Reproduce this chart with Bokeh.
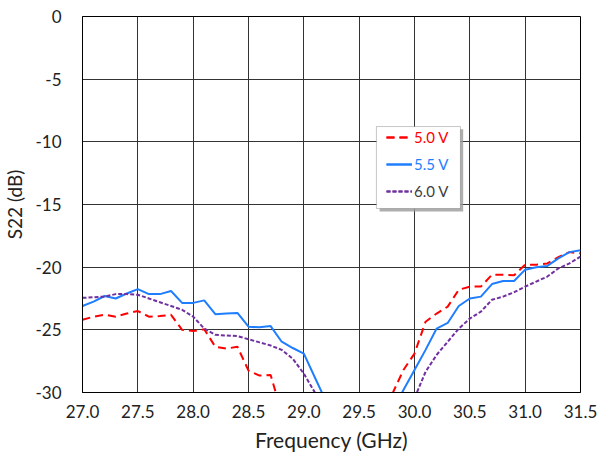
from bokeh.plotting import figure
from bokeh.models import (Legend, LegendItem, BoxAnnotation, Range1d, FixedTicker,
                          NumeralTickFormatter, PrintfTickFormatter)
from bokeh.embed import file_html
from bokeh.resources import INLINE

freq_lo = [27.0, 27.1, 27.2, 27.3, 27.4, 27.5, 27.6, 27.7, 27.8, 27.9, 28.0,
           28.1, 28.2, 28.3, 28.4, 28.5, 28.6, 28.7, 28.8, 28.9, 29.0, 29.1, 29.2]
freq_hi = [29.8, 29.9, 30.0, 30.1, 30.2, 30.3, 30.4, 30.5, 30.6, 30.7, 30.8,
           30.9, 31.0, 31.1, 31.2, 31.3, 31.4, 31.5]

s22_50_lo = [-24.2, -23.95, -23.8, -23.95, -23.7, -23.5, -23.95, -23.9, -23.8, -25.0, -25.1,
             -24.95, -26.35, -26.5, -26.35, -28.25, -28.65, -28.6, -31.6, -33.0, -34.0, -35.0, -36.0]
s22_50_hi = [-30.1, -28.2, -26.9, -24.35, -23.7, -23.15, -21.8, -21.55, -21.55, -20.6, -20.6,
             -20.65, -19.8, -19.8, -19.7, -19.2, -18.8, -18.9]

s22_55_lo = [-23.1, -22.75, -22.3, -22.5, -22.1, -21.75, -22.15, -22.15, -21.9, -22.85, -22.85,
             -22.65, -23.75, -23.7, -23.65, -24.75, -24.8, -24.7, -25.95, -26.45, -26.9, -28.8, -30.7]
s22_55_hi = [-31.5, -29.8, -28.2, -26.6, -24.9, -24.45, -23.1, -22.5, -22.35, -21.35, -21.1,
             -21.1, -20.2, -20.0, -19.9, -19.3, -18.8, -18.65]

s22_60_lo = [-22.45, -22.4, -22.35, -22.15, -22.15, -22.2, -22.5, -22.8, -23.1, -23.4, -23.95,
             -24.9, -25.4, -25.45, -25.5, -25.75, -26.0, -26.25, -26.6, -27.3, -28.5, -30.0, -31.5]
s22_60_hi = [-32.0, -31.2, -30.45, -28.35, -27.0, -25.95, -24.9, -24.1, -23.55, -22.6, -22.35,
             -22.0, -21.55, -21.15, -20.75, -20.1, -19.7, -19.15]

x_ticks = [27.0, 27.5, 28.0, 28.5, 29.0, 29.5, 30.0, 30.5, 31.0, 31.5]
y_ticks = [0, -5, -10, -15, -20, -25, -30]

RED = "#FF0000"
BLUE = "#1F7EFF"
PURPLE = "#7030A0"
FONT = "Lato"

p = figure(frame_width=498, frame_height=376, output_backend="svg", toolbar_location=None,
           x_range=Range1d(27.0, 31.5), y_range=Range1d(-30, 0),
           min_border_left=78, min_border_right=18, min_border_top=16, min_border_bottom=0)

p.outline_line_color = "black"
p.outline_line_width = 1

for ax in (p.xaxis[0], p.yaxis[0]):
    ax.major_tick_line_color = None
    ax.minor_tick_line_color = None
    ax.axis_line_color = "black"
    ax.major_label_text_font = FONT
    ax.major_label_text_font_size = "17px"
    ax.major_label_text_color = "#222222"
    ax.axis_label_text_font = FONT
    ax.axis_label_text_font_style = "normal"
    ax.axis_label_text_color = "#222222"

p.xaxis.ticker = FixedTicker(ticks=x_ticks)
p.xaxis.formatter = NumeralTickFormatter(format="0.0")
p.xaxis.axis_label = "Frequency (GHz)"
p.xaxis.axis_label_text_font_size = "21px"
p.xaxis.major_label_standoff = 6
p.xaxis.axis_label_standoff = 6

p.yaxis.ticker = FixedTicker(ticks=y_ticks)
p.yaxis.formatter = PrintfTickFormatter(format="%d")
p.yaxis.axis_label = "S22 (dB)"
p.yaxis.axis_label_text_font_size = "19px"
p.yaxis.major_label_standoff = 15
p.yaxis.axis_label_standoff = 6

p.xgrid.ticker = FixedTicker(ticks=x_ticks)
p.ygrid.ticker = FixedTicker(ticks=y_ticks)
for g in (p.xgrid[0], p.ygrid[0]):
    g.grid_line_color = "#333333"
    g.grid_line_width = 1

r50a = p.line(freq_lo, s22_50_lo, line_color=RED, line_width=2, line_dash="8 5")
r50b = p.line(freq_hi, s22_50_hi, line_color=RED, line_width=2, line_dash="8 5")
r55a = p.line(freq_lo, s22_55_lo, line_color=BLUE, line_width=2)
r55b = p.line(freq_hi, s22_55_hi, line_color=BLUE, line_width=2)
r60a = p.line(freq_lo, s22_60_lo, line_color=PURPLE, line_width=2, line_dash="4 2")
r60b = p.line(freq_hi, s22_60_hi, line_color=PURPLE, line_width=2, line_dash="4 2")

# legend frame with shadow
shadow = BoxAnnotation(left=29.685, right=30.44, top=-9.0, bottom=-15.55,
                       fill_color="#9a9a9a", fill_alpha=0.8, line_color=None)
box = BoxAnnotation(left=29.656, right=30.415, top=-8.78, bottom=-15.32,
                    fill_color="white", fill_alpha=1.0, line_color="#444444", line_width=1)
p.add_layout(shadow)
p.add_layout(box)

entries = [("5.0 V", [r50a, r50b], RED, 245),
           ("5.5 V", [r55a, r55b], BLUE, 218),
           ("6.0 V", [r60a, r60b], "#404040", 191)]
for lbl, rends, col, ypos in entries:
    lg = Legend(items=[LegendItem(label=lbl, renderers=rends)], location=(304, ypos),
                padding=0, margin=0, spacing=0, border_line_color=None,
                background_fill_alpha=0, glyph_width=26, glyph_height=20,
                label_standoff=2, label_text_font=FONT, label_text_font_size="15px",
                label_text_color=col, label_height=20)
    p.add_layout(lg, "center")

open("out.html", "w").write(file_html(p, INLINE))
